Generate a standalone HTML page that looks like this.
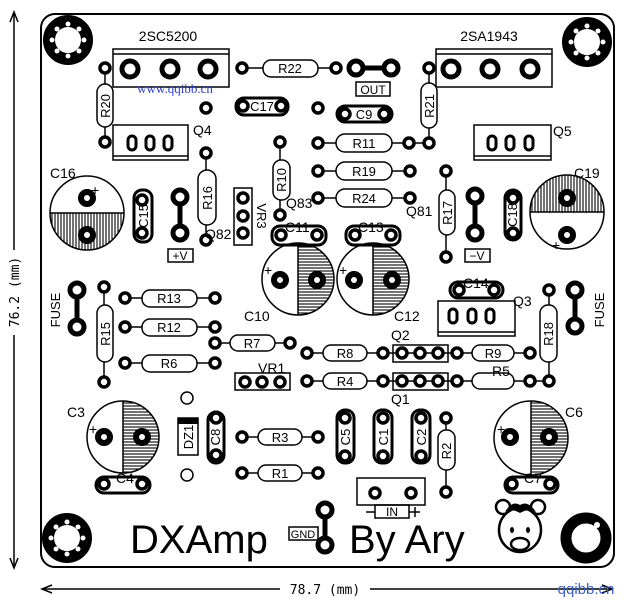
<!DOCTYPE html>
<html><head><meta charset="utf-8"><style>
html,body{margin:0;padding:0;background:#fff;}
svg{display:block;}
text{font-family:"Liberation Sans",sans-serif;fill:#000;}
</style></head><body>
<svg width="638" height="603" viewBox="0 0 638 603" xmlns="http://www.w3.org/2000/svg">
<defs>
<pattern id="vh" width="3" height="3" patternUnits="userSpaceOnUse"><line x1="1" y1="0" x2="1" y2="3" stroke="#000" stroke-width="1.1"/></pattern>
<pattern id="hh" width="3" height="3" patternUnits="userSpaceOnUse"><line x1="0" y1="1" x2="3" y2="1" stroke="#000" stroke-width="1.1"/></pattern>
</defs>
<rect width="638" height="603" fill="#fff"/>
<!-- board -->
<rect x="41" y="14" width="573" height="553" rx="14" fill="none" stroke="#000" stroke-width="2"/>
<!-- dimensions -->
<g stroke="#000" stroke-width="1.5" fill="none">
<line x1="14" y1="14" x2="14" y2="250"/><line x1="14" y1="335" x2="14" y2="566"/>
<path d="M10,22 L14,12 L18,22 M10,558 L14,568 L18,558"/>
<line x1="42" y1="589" x2="280" y2="589"/><line x1="370" y1="589" x2="612" y2="589"/>
<path d="M52,585 L42,589 L52,593 M602,585 L612,589 L602,593"/>
</g>
<text transform="translate(19,292) rotate(-90)" font-size="13" text-anchor="middle" fill="#000" style="font-family:'DejaVu Sans Mono',monospace">76.2 (mm)</text>
<text x="325" y="594" font-size="13" text-anchor="middle" style="font-family:'DejaVu Sans Mono',monospace">78.7 (mm)</text>
<text x="586" y="594" font-size="15" text-anchor="middle" style="fill:#3a5fc8">qqibb.cn</text>
<!-- mounting holes -->
<g>
<circle cx="68" cy="40" r="19" fill="none" stroke="#000" stroke-width="12"/>
<g fill="#fff"><circle cx="68" cy="24" r="2.5"/><circle cx="68" cy="56" r="2.5"/><circle cx="52" cy="40" r="2.5"/><circle cx="84" cy="40" r="2.5"/><circle cx="57" cy="29" r="2.5"/><circle cx="79" cy="29" r="2.5"/><circle cx="57" cy="51" r="2.5"/><circle cx="79" cy="51" r="2.5"/></g>
<circle cx="587" cy="42" r="19" fill="none" stroke="#000" stroke-width="12"/>
<g fill="#fff"><circle cx="587" cy="26" r="2.5"/><circle cx="587" cy="58" r="2.5"/><circle cx="571" cy="42" r="2.5"/><circle cx="603" cy="42" r="2.5"/><circle cx="576" cy="31" r="2.5"/><circle cx="598" cy="31" r="2.5"/><circle cx="576" cy="53" r="2.5"/><circle cx="598" cy="53" r="2.5"/></g>
<circle cx="67" cy="538" r="19" fill="none" stroke="#000" stroke-width="12"/>
<g fill="#fff"><circle cx="67" cy="522" r="2.5"/><circle cx="67" cy="554" r="2.5"/><circle cx="51" cy="538" r="2.5"/><circle cx="83" cy="538" r="2.5"/><circle cx="56" cy="527" r="2.5"/><circle cx="78" cy="527" r="2.5"/><circle cx="56" cy="549" r="2.5"/><circle cx="78" cy="549" r="2.5"/></g>
<circle cx="586" cy="538" r="20" fill="none" stroke="#000" stroke-width="11"/>
<circle cx="597" cy="525" r="3" fill="#fff"/>
</g>

<!-- wires -->
<g stroke="#000" stroke-width="1.5" fill="none">
<line x1="242" y1="68" x2="336" y2="68"/>
<line x1="105" y1="68" x2="105" y2="142"/>
<line x1="429" y1="68" x2="429" y2="143"/>
<line x1="206" y1="153" x2="206" y2="240"/>
<line x1="280" y1="142" x2="280" y2="215"/>
<line x1="318" y1="143" x2="429" y2="143"/>
<line x1="318" y1="171" x2="410" y2="171"/>
<line x1="318" y1="198" x2="410" y2="198"/>
<line x1="446" y1="171" x2="446" y2="257"/>
<line x1="104" y1="287" x2="104" y2="382"/>
<line x1="125" y1="298" x2="215" y2="298"/>
<line x1="125" y1="327" x2="215" y2="327"/>
<line x1="125" y1="363" x2="215" y2="363"/>
<line x1="215" y1="343" x2="290" y2="343"/>
<line x1="307" y1="353" x2="530" y2="353"/>
<line x1="307" y1="381" x2="549" y2="381"/>
<line x1="549" y1="290" x2="549" y2="381"/>
<line x1="242" y1="437" x2="318" y2="437"/>
<line x1="242" y1="473" x2="318" y2="473"/>
<line x1="446" y1="418" x2="446" y2="492"/>
</g>
<g stroke="#000" stroke-width="5">
<line x1="356" y1="68" x2="391" y2="68"/>
<line x1="180" y1="197" x2="180" y2="233"/>
<line x1="475" y1="196" x2="475" y2="233"/>
<line x1="77" y1="290" x2="77" y2="327"/>
<line x1="575" y1="290" x2="575" y2="326"/>
<line x1="325" y1="510" x2="325" y2="545"/>
</g>

<!-- transistors big -->
<g fill="none" stroke="#000" stroke-width="1.5">
<rect x="113" y="49" width="116" height="38"/><line x1="113" y1="54" x2="229" y2="54"/>
<rect x="436" y="49" width="116" height="38"/><line x1="436" y1="54" x2="552" y2="54"/>
<rect x="113" y="125" width="75" height="35"/><line x1="113" y1="156" x2="188" y2="156"/>
<rect x="474" y="125" width="77" height="35"/><line x1="474" y1="156" x2="551" y2="156"/>
<rect x="438" y="301" width="77" height="35"/><line x1="438" y1="332" x2="515" y2="332"/>
<rect x="234" y="188" width="18" height="57"/>
<rect x="235" y="373" width="55" height="17"/>
<rect x="393" y="345" width="55" height="17"/>
<rect x="393" y="373" width="55" height="17"/>
<rect x="357" y="478" width="68" height="27"/>
</g>
<g fill="#fff" stroke="#000" stroke-width="5">
<circle cx="130" cy="69" r="8"/><circle cx="170" cy="69" r="8"/><circle cx="208" cy="69" r="8"/>
<circle cx="451" cy="69" r="8"/><circle cx="490" cy="69" r="8"/><circle cx="530" cy="69" r="8"/>
<circle cx="356" cy="68" r="7"/><circle cx="391" cy="68" r="7"/>
<circle cx="180" cy="197" r="7"/><circle cx="180" cy="233" r="7"/>
<circle cx="475" cy="196" r="7"/><circle cx="475" cy="233" r="7"/>
<circle cx="77" cy="290" r="7"/><circle cx="77" cy="327" r="7"/>
<circle cx="575" cy="290" r="7"/><circle cx="575" cy="326" r="7"/>
<circle cx="325" cy="510" r="7"/><circle cx="325" cy="545" r="7"/>
</g>
<g fill="#fff" stroke="#000" stroke-width="3">
<rect x="128" y="136" width="8" height="14" rx="4"/><rect x="146" y="136" width="8" height="14" rx="4"/><rect x="164" y="136" width="8" height="14" rx="4"/>
<rect x="488" y="136" width="8" height="14" rx="4"/><rect x="506" y="136" width="8" height="14" rx="4"/><rect x="525" y="136" width="8" height="14" rx="4"/>
<rect x="449" y="309" width="8" height="14" rx="4"/><rect x="468" y="309" width="8" height="14" rx="4"/><rect x="486" y="309" width="8" height="14" rx="4"/>
</g>

<!-- capacitor outlines (small) -->
<g fill="none" stroke="#000" stroke-width="3">
<rect x="236" y="98" width="52" height="17" rx="8"/>
<rect x="337" y="106" width="55" height="16" rx="8"/>
<rect x="134" y="190" width="18" height="52" rx="8"/>
<rect x="505" y="190" width="16" height="50" rx="8"/>
<rect x="272" y="226" width="54" height="19" rx="8"/>
<rect x="346" y="226" width="54" height="19" rx="8"/>
<rect x="450" y="282" width="53" height="16" rx="8"/>
<rect x="96" y="477" width="54" height="16" rx="8"/>
<rect x="505" y="477" width="53" height="16" rx="8"/>
<rect x="208" y="412" width="16" height="51" rx="8"/>
<rect x="337" y="410" width="17" height="53" rx="8"/>
<rect x="374" y="410" width="18" height="53" rx="8"/>
<rect x="412" y="410" width="18" height="53" rx="8"/>
</g>

<!-- electrolytics -->
<path d="M50,213 A37,37 0 0 0 124,213 Z" fill="url(#vh)"/>
<circle cx="87" cy="213" r="37" fill="none" stroke="#000" stroke-width="1.5"/>
<line x1="50" y1="213" x2="124" y2="213" stroke="#000" stroke-width="1.5"/>
<path d="M530,212 A37,37 0 0 1 604,212 Z" fill="url(#vh)"/>
<circle cx="567" cy="212" r="37" fill="none" stroke="#000" stroke-width="1.5"/>
<line x1="530" y1="212" x2="604" y2="212" stroke="#000" stroke-width="1.5"/>
<path d="M298,243 A36,36 0 0 1 298,315 Z" fill="url(#hh)"/>
<circle cx="298" cy="279" r="36" fill="none" stroke="#000" stroke-width="1.5"/>
<line x1="298" y1="243" x2="298" y2="315" stroke="#000" stroke-width="1.5"/>
<path d="M373,243 A36,36 0 0 1 373,315 Z" fill="url(#hh)"/>
<circle cx="373" cy="279" r="36" fill="none" stroke="#000" stroke-width="1.5"/>
<line x1="373" y1="243" x2="373" y2="315" stroke="#000" stroke-width="1.5"/>
<path d="M123,401 A36,36 0 0 1 123,473 Z" fill="url(#hh)"/>
<circle cx="123" cy="437" r="36" fill="none" stroke="#000" stroke-width="1.5"/>
<line x1="123" y1="401" x2="123" y2="473" stroke="#000" stroke-width="1.5"/>
<path d="M531,401 A37,37 0 0 1 531,475 Z" fill="url(#hh)"/>
<circle cx="531" cy="438" r="37" fill="none" stroke="#000" stroke-width="1.5"/>
<line x1="531" y1="401" x2="531" y2="475" stroke="#000" stroke-width="1.5"/>
<g fill="#fff" stroke="#000" stroke-width="6">
<circle cx="87" cy="198" r="6"/><circle cx="87" cy="235" r="6"/>
<circle cx="567" cy="198" r="6"/><circle cx="567" cy="235" r="6"/>
<circle cx="280" cy="280" r="6"/><circle cx="317" cy="280" r="6"/>
<circle cx="354" cy="280" r="6"/><circle cx="392" cy="280" r="6"/>
<circle cx="104" cy="437" r="6"/><circle cx="142" cy="437" r="6"/>
<circle cx="510" cy="437" r="6"/><circle cx="549" cy="437" r="6"/>
</g>
<g font-size="14"><text x="91" y="195">+</text><text x="552" y="250">+</text><text x="264" y="275">+</text><text x="339" y="275">+</text><text x="89" y="434">+</text><text x="497" y="434">+</text></g>

<!-- resistor bodies -->
<g fill="#fff" stroke="#000" stroke-width="1.5">
<rect x="263" y="60" width="55" height="17" rx="8"/>
<rect x="336" y="134" width="56" height="18" rx="9"/>
<rect x="336" y="162" width="56" height="18" rx="9"/>
<rect x="336" y="189" width="56" height="18" rx="9"/>
<rect x="97" y="84" width="16" height="43" rx="8"/>
<rect x="421" y="83" width="16" height="45" rx="8"/>
<rect x="198" y="170" width="18" height="55" rx="9"/>
<rect x="273" y="160" width="17" height="40" rx="8"/>
<rect x="439" y="190" width="16" height="45" rx="8"/>
<rect x="97" y="305" width="16" height="57" rx="8"/>
<rect x="540" y="305" width="17" height="57" rx="8"/>
<rect x="142" y="290" width="55" height="17" rx="8"/>
<rect x="142" y="319" width="55" height="17" rx="8"/>
<rect x="142" y="355" width="55" height="17" rx="8"/>
<rect x="230" y="335" width="45" height="16" rx="8"/>
<rect x="323" y="345" width="44" height="16" rx="8"/>
<rect x="323" y="373" width="44" height="16" rx="8"/>
<rect x="472" y="345" width="42" height="16" rx="8"/>
<rect x="472" y="373" width="42" height="16" rx="8"/>
<rect x="258" y="429" width="44" height="16" rx="8"/>
<rect x="258" y="465" width="44" height="16" rx="8"/>
<rect x="438" y="430" width="17" height="40" rx="8"/>
<rect x="178" y="418" width="20" height="37" fill="#fff"/>
</g>
<rect x="178" y="418" width="20" height="6" fill="#000"/>

<!-- small pads -->
<g fill="#fff" stroke="#000" stroke-width="3.5">
<circle cx="105" cy="68" r="5"/><circle cx="105" cy="142" r="5"/><circle cx="242" cy="68" r="5"/><circle cx="336" cy="68" r="5"/>
<circle cx="429" cy="68" r="5"/><circle cx="429" cy="143" r="5"/><circle cx="409" cy="143" r="5"/><circle cx="410" cy="171" r="5"/><circle cx="410" cy="198" r="5"/>
<circle cx="318" cy="143" r="5"/><circle cx="318" cy="171" r="5"/><circle cx="318" cy="198" r="5"/>
<circle cx="206" cy="108" r="5"/><circle cx="318" cy="108" r="5"/>
<circle cx="243" cy="106" r="5"/><circle cx="281" cy="106" r="5"/><circle cx="345" cy="114" r="5"/><circle cx="384" cy="114" r="5"/>
<circle cx="206" cy="153" r="5"/><circle cx="206" cy="240" r="5"/><circle cx="280" cy="142" r="5"/><circle cx="280" cy="215" r="5"/>
<circle cx="142" cy="200" r="5"/><circle cx="142" cy="233" r="5"/><circle cx="513" cy="198" r="5"/><circle cx="513" cy="233" r="5"/>
<circle cx="243" cy="198" r="5"/><circle cx="243" cy="216" r="5"/><circle cx="243" cy="233" r="5"/>
<circle cx="281" cy="235" r="5"/><circle cx="317" cy="235" r="5"/><circle cx="355" cy="235" r="5"/><circle cx="391" cy="235" r="5"/>
<circle cx="446" cy="171" r="5"/><circle cx="446" cy="257" r="5"/><circle cx="459" cy="290" r="5"/><circle cx="494" cy="290" r="5"/>
<circle cx="104" cy="287" r="5"/><circle cx="104" cy="382" r="5"/><circle cx="549" cy="290" r="5"/><circle cx="549" cy="381" r="5"/>
<circle cx="125" cy="298" r="5"/><circle cx="215" cy="298" r="5"/><circle cx="125" cy="327" r="5"/><circle cx="215" cy="327" r="5"/>
<circle cx="125" cy="363" r="5"/><circle cx="215" cy="363" r="5"/><circle cx="215" cy="343" r="5"/><circle cx="290" cy="343" r="5"/>
<circle cx="307" cy="353" r="5"/><circle cx="383" cy="353" r="5"/><circle cx="457" cy="353" r="5"/><circle cx="530" cy="353" r="5"/>
<circle cx="307" cy="381" r="5"/><circle cx="383" cy="381" r="5"/><circle cx="457" cy="381" r="5"/><circle cx="530" cy="381" r="5"/>
<circle cx="402" cy="353" r="5"/><circle cx="420" cy="353" r="5"/><circle cx="438" cy="353" r="5"/>
<circle cx="402" cy="381" r="5"/><circle cx="420" cy="381" r="5"/><circle cx="438" cy="381" r="5"/>
<circle cx="245" cy="382" r="5"/><circle cx="262" cy="382" r="5"/><circle cx="280" cy="382" r="5"/>
<circle cx="216" cy="418" r="5"/><circle cx="216" cy="455" r="5"/>
<circle cx="345" cy="418" r="5"/><circle cx="345" cy="456" r="5"/><circle cx="383" cy="418" r="5"/><circle cx="383" cy="456" r="5"/><circle cx="421" cy="418" r="5"/><circle cx="421" cy="456" r="5"/>
<circle cx="242" cy="437" r="5"/><circle cx="318" cy="437" r="5"/><circle cx="242" cy="473" r="5"/><circle cx="318" cy="473" r="5"/>
<circle cx="446" cy="418" r="5"/><circle cx="446" cy="492" r="5"/>
<circle cx="104" cy="484" r="5"/><circle cx="142" cy="484" r="5"/><circle cx="512" cy="484" r="5"/><circle cx="550" cy="484" r="5"/>
<circle cx="375" cy="493" r="5"/><circle cx="411" cy="493" r="5"/>
</g>
<g fill="#fff" stroke="#000" stroke-width="1.5"><circle cx="187" cy="398" r="6"/><circle cx="187" cy="475" r="6"/></g>

<!-- labels -->
<g font-size="14">
<text x="168" y="41" text-anchor="middle">2SC5200</text>
<text x="489" y="41" text-anchor="middle">2SA1943</text>
<text x="193" y="135">Q4</text><text x="553" y="136">Q5</text>
<text x="50" y="178">C16</text><text x="574" y="178">C19</text>
<text x="244" y="321">C10</text><text x="394" y="321">C12</text>
<text x="67" y="417">C3</text><text x="565" y="417">C6</text>
<text x="513" y="306">Q3</text><text x="391" y="340">Q2</text><text x="391" y="404">Q1</text>
<text x="205" y="239">Q82</text><text x="286" y="208">Q83</text><text x="406" y="216">Q81</text>
<text x="258" y="373">VR1</text><text x="492" y="376">R5</text>
<text x="285" y="232">C11</text><text x="358" y="232">C13</text><text x="463" y="288">C14</text>
<text x="116" y="483">C4</text><text x="524" y="483">C7</text>
</g>
<g font-size="13" text-anchor="middle">
<text x="290" y="73">R22</text><text x="364" y="148">R11</text><text x="364" y="176">R19</text><text x="364" y="203">R24</text>
<text x="169" y="303">R13</text><text x="169" y="332">R12</text><text x="169" y="368">R6</text>
<text x="252" y="348">R7</text><text x="345" y="358">R8</text><text x="345" y="386">R4</text><text x="493" y="358">R9</text>
<text x="280" y="442">R3</text><text x="280" y="478">R1</text>
<text x="262" y="111">C17</text><text x="364" y="119">C9</text>
</g>
<g font-size="13" text-anchor="middle">
<text transform="translate(110,106) rotate(-90)">R20</text>
<text transform="translate(434,106) rotate(-90)">R21</text>
<text transform="translate(212,198) rotate(-90)">R16</text>
<text transform="translate(286,180) rotate(-90)">R10</text>
<text transform="translate(452,213) rotate(-90)">R17</text>
<text transform="translate(110,334) rotate(-90)">R15</text>
<text transform="translate(553,334) rotate(-90)">R18</text>
<text transform="translate(451,451) rotate(-90)">R2</text>
<text transform="translate(148,216) rotate(-90)">C15</text>
<text transform="translate(517,215) rotate(-90)">C18</text>
<text transform="translate(193,437) rotate(-90)">DZ1</text>
<text transform="translate(220,437) rotate(-90)">C8</text>
<text transform="translate(350,437) rotate(-90)">C5</text>
<text transform="translate(388,437) rotate(-90)">C1</text>
<text transform="translate(426,437) rotate(-90)">C2</text>
<text transform="translate(257,216) rotate(90)">VR3</text>
<text transform="translate(60,310) rotate(-90)">FUSE</text>
<text transform="translate(604,310) rotate(-90)">FUSE</text>
</g>
<!-- boxed labels -->
<g fill="none" stroke="#000" stroke-width="1.5">
<rect x="356" y="82" width="34" height="14"/><rect x="168" y="249" width="25" height="13"/><rect x="465" y="249" width="25" height="13"/>
<rect x="289" y="527" width="29" height="13"/><rect x="375" y="505" width="34" height="13"/>
<path d="M366,512 H375 M409,512 H420 M415,507 V517"/>
</g>
<g font-size="12" text-anchor="middle">
<text x="373" y="94">OUT</text><text x="180" y="260">+V</text><text x="477" y="260">−V</text>
<text x="303" y="538" font-size="11">GND</text><text x="392" y="516">IN</text>
</g>
<text x="130" y="553" font-size="40" style="font-weight:normal">DXAmp</text>
<text x="349" y="553" font-size="40">By Ary</text>
<text x="175" y="93" font-size="13" text-anchor="middle" style="fill:#2a3bd0;font-family:'Liberation Serif',serif">www.qqibb.cn</text>
<!-- bear -->
<g fill="#fff" stroke="#000" stroke-width="2.5">
<circle cx="503" cy="507" r="7"/><circle cx="538" cy="507" r="7"/>
<ellipse cx="520" cy="530" rx="21" ry="22"/>
<ellipse cx="520" cy="544" rx="9" ry="6"/>
</g>
<path d="M505,512 Q512,500 520,505 Q528,500 536,512 Q528,508 520,513 Q512,508 505,512 Z" fill="#000"/>
<g fill="#000"><ellipse cx="512" cy="530" rx="2" ry="3"/><ellipse cx="528" cy="530" rx="2" ry="3"/></g>
</svg>
</body></html>
